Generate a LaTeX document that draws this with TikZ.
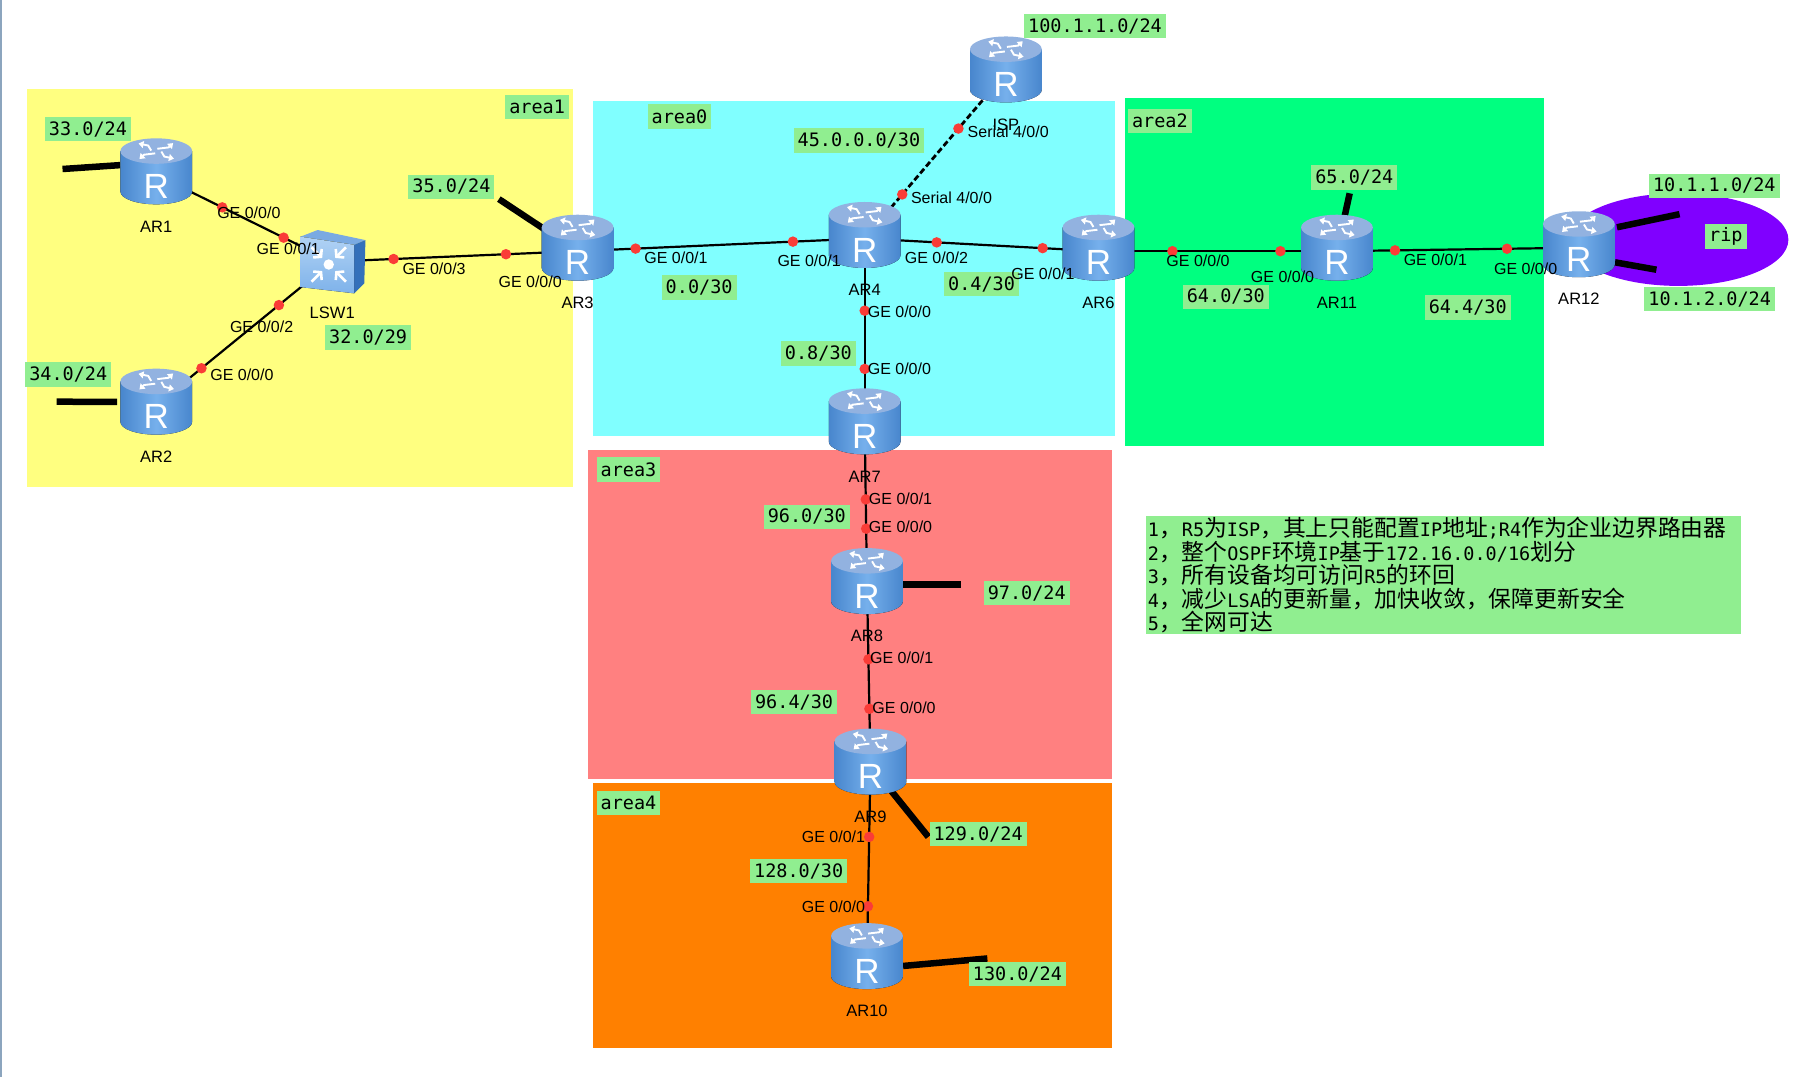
\documentclass[tikz,border=0pt]{standalone}
\usepackage{fontspec}
\setmainfont{Liberation Sans}
\newfontfamily\monofnt{DejaVu Sans Mono}
\newfontfamily\cjk{Noto Sans CJK SC}
\usetikzlibrary{arrows.meta,positioning}
\definecolor{areaYellow}{RGB}{255,255,128}
\definecolor{areaCyan}{RGB}{128,255,255}
\definecolor{areaGreen}{RGB}{0,255,128}
\definecolor{areaRed}{RGB}{255,128,128}
\definecolor{areaOrange}{RGB}{255,128,0}
\definecolor{ripPurple}{RGB}{128,0,255}
\definecolor{noteGreen}{RGB}{144,238,144}
\definecolor{dotRed}{RGB}{250,60,55}
\definecolor{edgeGray}{RGB}{140,165,190}
\definecolor{routerDark}{RGB}{72,134,205}
\definecolor{routerLite}{RGB}{118,176,236}
\definecolor{routerTop}{RGB}{146,178,224}
\definecolor{swFront}{RGB}{176,210,244}
\definecolor{swFrontLo}{RGB}{126,178,234}
\definecolor{swTop}{RGB}{122,170,226}
\definecolor{swSide}{RGB}{52,112,186}
\newcommand{\cn}[1]{{\cjk\fontsize{22.8}{23.5}\selectfont #1}}

\begin{document}
\begin{tikzpicture}[
  x=1.1575pt,y=-1.1575pt,
  node distance=13pt,
  devbox/.style={minimum width=71.8pt,minimum height=63.7pt,inner sep=0pt},
  devname/.style={font=\fontsize{16.5}{18}\selectfont,inner sep=0pt,text height=12pt,text depth=0pt},
  portname/.style={font=\fontsize{16}{17}\selectfont,inner sep=0pt},
  tagbox/.style={fill=noteGreen,font=\monofnt\fontsize{18.5}{20}\selectfont,inner xsep=4pt,inner ysep=0pt,minimum height=24.5pt},
  portdot/.style={circle,fill=dotRed,inner sep=0pt,minimum size=10.5pt},
  link/.style={line width=2.2pt,black},
  seriallink/.style={line width=2.8pt,black,dash pattern=on 6pt off 3pt},
  stub/.style={line width=6.5pt,black},
  pics/routericon/.style={code={
    \fill[left color=routerDark,right color=routerDark,middle color=routerLite]
      (-31,-20.5) -- (-31,14.5) arc[start angle=180,end angle=0,x radius=31,y radius=11] -- (31,-20.5) -- cycle;
    \fill[routerTop] (0,-20.5) ellipse[x radius=31,y radius=11];
    \foreach \a in {15,105,195,285} {
      \begin{scope}[shift={(0,-20.5)},yscale=.45,rotate=\a]
        \draw[white,line width=1.9pt,-{Triangle[length=5pt,width=7pt]}] (2,-4) -- (12,-4) -- (18,-11);
      \end{scope}
    }
    \node[white,inner sep=0pt,font=\fontsize{35}{35}\selectfont] (-r) at (0,10) {R};
  }},
  pics/switchicon/.style={code={
    \fill[swTop] (-27.5,-21.5) -- (-12.6,-27.3) -- (28.7,-18.6) -- (19,-14.5) -- cycle;
    \fill[swSide] (19,-14.5) -- (28.7,-18.6) -- (27.7,18.8) -- (19,27.4) -- cycle;
    \fill[top color=swFront,bottom color=swFrontLo] (-27.5,-21.5) -- (19,-14.5) -- (19,27.4) -- (-27.5,22) -- cycle;
    \fill[white] (-3,2.5) circle[radius=4.5];
    \foreach \a in {45,135,225,315} {
      \begin{scope}[shift={(-3,2.5)},rotate=\a]
        \draw[white,line width=2.6pt,-{Straight Barb[length=5pt,width=12pt]}] (21,0) -- (8,0);
      \end{scope}
    }
  }}
]
% areas
\fill[edgeGray] (0,0) rectangle (1.6,930.4);
\fill[areaYellow] (23,77) rectangle (495,421);
\fill[areaCyan] (512,87) rectangle (963,377);
\fill[areaGreen] (972,85) rectangle (1334,385);
\fill[areaRed] (508,389) rectangle (961,673);
\fill[areaOrange] (512,676) rectangle (961,905);
\fill[ripPurple] (1450,207) ellipse[x radius=95,y radius=40];
% devices
\node[devbox] (AR1) at (135,151) {};
\node[devbox] (AR2) at (135,350) {};
\node[devbox] (LSW1) at (287,226) {};
\node[devbox] (AR3) at (499,217) {};
\node[devbox] (AR4) at (747,206) {};
\node[devbox] (ISP) at (869,63) {};
\node[devbox] (AR6) at (949,217) {};
\node[devbox] (AR7) at (747,367) {};
\node[devbox] (AR8) at (749,505) {};
\node[devbox] (AR9) at (752,661) {};
\node[devbox] (AR10) at (749,829) {};
\node[devbox] (AR11) at (1155,217) {};
\node[devbox] (AR12) at (1364,214) {};
% free ends of the stubs
\coordinate (end1) at (54,146);
\coordinate (end2) at (49,347);
\coordinate (end3) at (431,172);
\coordinate (end8) at (830,505);
\coordinate (end9) at (802,723);
\coordinate (end10) at (853,828);
\coordinate (end11) at (1166,167);
\coordinate (end12a) at (1451,185);
\coordinate (end12b) at (1431,233);
\draw[stub] (AR1.165) -- (end1);
\draw[stub,shorten <=3pt] (AR2.175) -- (end2);
\draw[stub] (AR3.center) -- (end3);
\draw[stub] (AR8.center) -- (end8);
\draw[stub] (AR9.center) -- (end9);
\draw[stub] (AR10.-10) -- (end10);
\draw[stub] (AR11.center) -- (end11);
\draw[stub,shorten <=2pt] (AR12.29) -- (end12a);
\draw[stub] (AR12.-22) -- (end12b);
% links
\draw[link] (AR1.center) -- node[portdot,pos=.375] (p1) {} node[portdot,pos=.724] (p2) {} (LSW1.center);
\draw[link] (AR2.center) -- node[portdot,pos=.257] (p3) {} node[portdot,pos=.697] (p4) {} (LSW1.center);
\draw[link] (LSW1.center) -- node[portdot,pos=.25] (p5) {} node[portdot,pos=.708] (p6) {} (AR3.center);
\draw[link] (AR3.center) -- node[portdot,pos=.202] (p7) {} node[portdot,pos=.75] (p8) {} (AR4.center);
\draw[link] (AR4.center) -- node[portdot,pos=.308] (p9) {} node[portdot,pos=.761] (p10) {} (AR6.center);
\draw[seriallink] (ISP.center) -- node[portdot,pos=.336] (p11) {} node[portdot,pos=.734] (p12) {} (AR4.center);
\draw[link] (AR4.center) -- node[portdot,pos=.3875] (p13) {} node[portdot,pos=.7] (p14) {} (AR7.center);
\draw[link] (AR6.center) -- node[portdot,pos=.31] (p15) {} node[portdot,pos=.763] (p16) {} (AR11.center);
\draw[link] (AR11.center) -- node[portdot,pos=.24] (p17) {} node[portdot,pos=.703] (p18) {} (AR12.center);
\draw[link] (AR7.center) -- node[portdot,pos=.467] (p19) {} node[portdot,pos=.65] (p20) {} (AR8.center);
\draw[link] (AR8.center) -- node[portdot,pos=.414] (p21) {} node[portdot,pos=.688] (p22) {} (AR9.center);
\draw[link] (AR9.center) -- node[portdot,pos=.369] (p23) {} node[portdot,pos=.726] (p24) {} (AR10.center);
% icons
\pic (AR1i) at (AR1) {routericon};
\pic (AR2i) at (AR2) {routericon};
\pic (LSW1i) at (LSW1) {switchicon};
\pic (AR3i) at (AR3) {routericon};
\pic (AR4i) at (AR4) {routericon};
\pic (ISPi) at (ISP) {routericon};
\pic (AR6i) at (AR6) {routericon};
\pic (AR7i) at (AR7) {routericon};
\pic (AR8i) at (AR8) {routericon};
\pic (AR9i) at (AR9) {routericon};
\pic (AR10i) at (AR10) {routericon};
\pic (AR11i) at (AR11) {routericon};
\pic (AR12i) at (AR12) {routericon};
% device names
\node[devname,below=of AR1] (AR1n) {AR1};
\node[devname,below=of AR2] (AR2n) {AR2};
\node[devname,below=of LSW1] (LSW1n) {LSW1};
\node[devname,below=of AR3] (AR3n) {AR3};
\node[devname,below=of AR4] (AR4n) {AR4};
\node[devname,below=of ISP] (ISPn) {ISP};
\node[devname,below=of AR6] (AR6n) {AR6};
\node[devname,below=of AR7] (AR7n) {AR7};
\node[devname,below=of AR8] (AR8n) {AR8};
\node[devname,below=of AR9] (AR9n) {AR9};
\node[devname,below=of AR10] (AR10n) {AR10};
\node[devname,below=of AR11] (AR11n) {AR11};
\node[devname,below=of AR12] (AR12n) {AR12};
% tags
\node[tagbox] (tagA1) at (464,92.5) {area1};
\node[tagbox] (tagA0) at (587,100.5) {area0};
\node[tagbox] (tagA2) at (1002,104.5) {area2};
\node[tagbox] (tagA3) at (543,405.5) {area3};
\node[tagbox] (tagA4) at (543,693.5) {area4};
\node[tagbox] (tagRip) at (1491,204.5) {rip};
\node[tagbox] (tag33) at (76,111.5) {33.0/24};
\node[tagbox] (tag34) at (59,323.5) {34.0/24};
\node[tagbox] (tag35) at (390,161.5) {35.0/24};
\node[tagbox] (tag32) at (318,291.5) {32.0/29};
\node[tagbox] (tag45) at (742,121.5) {45.0.0.0/30};
\node[tagbox] (tag00) at (604,248.5) {0.0/30};
\node[tagbox] (tag04) at (848,245.5) {0.4/30};
\node[tagbox] (tag08) at (707,305.5) {0.8/30};
\node[tagbox] (tag100) at (946,22.5) {100.1.1.0/24};
\node[tagbox] (tag65) at (1170,153.5) {65.0/24};
\node[tagbox] (tag640) at (1059,256.5) {64.0/30};
\node[tagbox] (tag644) at (1268,265.5) {64.4/30};
\node[tagbox] (tag101) at (1481,160.5) {10.1.1.0/24};
\node[tagbox] (tag102) at (1477,258.5) {10.1.2.0/24};
\node[tagbox] (tag960) at (697,446.5) {96.0/30};
\node[tagbox] (tag97) at (887,512.5) {97.0/24};
\node[tagbox] (tag964) at (686,606.5) {96.4/30};
\node[tagbox] (tag129) at (845,720.5) {129.0/24};
\node[tagbox] (tag128) at (690,752.5) {128.0/30};
\node[tagbox] (tag130) at (879,841.5) {130.0/24};
% port names
\node[portname] (n1) at (215,183.5) {GE 0/0/0};
\node[portname] (n2) at (249,214.5) {GE 0/0/1};
\node[portname] (n3) at (226,282.5) {GE 0/0/2};
\node[portname] (n4) at (209,323.5) {GE 0/0/0};
\node[portname] (n5) at (375,232.5) {GE 0/0/3};
\node[portname] (n6) at (458,243.5) {GE 0/0/0};
\node[portname] (n7) at (584,222.5) {GE 0/0/1};
\node[portname] (n8) at (699,225.5) {GE 0/0/1};
\node[portname] (n9) at (809,222.5) {GE 0/0/2};
\node[portname] (n10) at (901,236.5) {GE 0/0/1};
\node[portname] (n11) at (871,113.5) {Serial 4/0/0};
\node[portname] (n12) at (822,170.5) {Serial 4/0/0};
\node[portname] (n13) at (777,269.5) {GE 0/0/0};
\node[portname] (n14) at (777,318.5) {GE 0/0/0};
\node[portname] (n15) at (1035,225.5) {GE 0/0/0};
\node[portname] (n16) at (1108,239.5) {GE 0/0/0};
\node[portname] (n17) at (1240,224.5) {GE 0/0/1};
\node[portname] (n18) at (1318,232.5) {GE 0/0/0};
\node[portname] (n19) at (778,430.5) {GE 0/0/1};
\node[portname] (n20) at (778,455.5) {GE 0/0/0};
\node[portname] (n21) at (779,568.5) {GE 0/0/1};
\node[portname] (n22) at (781,611.5) {GE 0/0/0};
\node[portname] (n23) at (720,722.5) {GE 0/0/1};
\node[portname] (n24) at (720,783.5) {GE 0/0/0};
% notes
\node[fill=noteGreen,inner xsep=2pt,inner ysep=0pt,text width=591pt,minimum height=118pt,align=left,
  font=\monofnt\fontsize{18.5}{23.5}\selectfont] (notes) at (1247,497) {%
  1\cn{，}R5\cn{为}ISP\cn{，其上只能配置}IP\cn{地址};R4\cn{作为企业边界路由器}\\
  2\cn{，整个}OSPF\cn{环境}IP\cn{基于}172.16.0.0/16\cn{划分}\\
  3\cn{，所有设备均可访问}R5\cn{的环回}\\
  4\cn{，减少}LSA\cn{的更新量，加快收敛，保障更新安全}\\
  5\cn{，全网可达}\par\vspace{8pt}};
\useasboundingbox (0,0) rectangle (1568,930.4);
\end{tikzpicture}
\end{document}
